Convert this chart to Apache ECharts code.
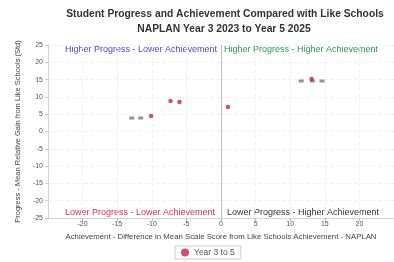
<!DOCTYPE html>
<html><head><meta charset="utf-8">
<script src="https://cdn.jsdelivr.net/npm/echarts@6/dist/echarts.min.js"></script>
<style>html,body{margin:0;padding:0;background:#fff}#c{width:394px;height:262px}</style>
</head><body><div id="c"></div>
<script>
var titleText = 'Student Progress and Achievement Compared with Like Schools';
var subtitleText = 'NAPLAN Year 3 2023 to Year 5 2025';
var xAxisName = 'Achievement - Difference in Mean Scale Score from Like Schools Achievement - NAPLAN';
var yAxisName = 'Progress - Mean Relative Gain from Like Schools (Std)';
var seriesName = 'Year 3 to 5';
var xTicks = [-25, -20, -15, -10, -5, 0, 5, 10, 15, 20, 25];
var yTicks = [-25, -20, -15, -10, -5, 0, 5, 10, 15, 20, 25];
var mainPoints = [[-10.1, 4.5], [-7.3, 8.8], [-6.0, 8.5], [1.0, 7.1], [13.1, 15.2]];
var greyPoints = [[-12.9, 3.9], [-11.6, 3.9], [11.6, 14.6], [13.2, 14.6], [14.6, 14.6]];
var quadrantLabels = ['Higher Progress - Lower Achievement', 'Higher Progress - Higher Achievement',
  'Lower Progress - Lower Achievement', 'Lower Progress - Higher Achievement'];

var chart = echarts.init(document.getElementById('c'));
var F = 'Liberation Sans, Arial, sans-serif';
chart.setOption({
  animation: false,
  title: [
    {text: titleText, left: 220, top: 4, textAlign: 'center',
     textStyle: {fontSize: 10.3, fontWeight: 'bold', color: '#333', fontFamily: F}},
    {text: subtitleText, left: 219, top: 19, textAlign: 'center',
     textStyle: {fontSize: 10.3, fontWeight: 'bold', color: '#333', fontFamily: F}}
  ],
  legend: {data: [seriesName], left: 175, top: 246, itemWidth: 8, itemHeight: 8,
    padding: [2, 6], borderColor: '#ccc', borderWidth: 1, itemGap: 4,
    textStyle: {fontSize: 8.5, color: '#555', fontFamily: F}},
  grid: {left: 48, top: 45, width: 350, height: 173},
  xAxis: {type: 'value', min: xTicks[0], max: xTicks[xTicks.length - 1], interval: 5,
    name: xAxisName, nameLocation: 'middle', nameGap: 15,
    nameTextStyle: {fontSize: 7.8, color: '#444', fontFamily: F},
    axisLine: {show: true, onZero: false, lineStyle: {color: '#ccc', type: 'dotted'}},
    axisTick: {show: true, inside: false, length: 3, lineStyle: {color: '#bbb'}},
    axisLabel: {fontSize: 7, color: '#555', margin: 3, showMinLabel: false, showMaxLabel: false, fontFamily: F},
    splitLine: {show: true, lineStyle: {color: '#f2f2f2', type: 'dashed'}}},
  yAxis: {type: 'value', min: yTicks[0], max: yTicks[yTicks.length - 1], interval: 5,
    name: yAxisName, nameLocation: 'middle', nameGap: 26,
    nameTextStyle: {fontSize: 7.5, color: '#444', fontFamily: F},
    axisLine: {show: true, onZero: false, lineStyle: {color: '#ccc', type: 'dotted'}},
    axisTick: {show: true, length: 3, lineStyle: {color: '#ccc'}},
    axisLabel: {fontSize: 7, color: '#555', margin: 5, fontFamily: F},
    splitLine: {show: true, lineStyle: {color: '#f2f2f2', type: 'dashed'}}},
  graphic: [
    {type: 'text', left: 65, top: 45, style: {text: quadrantLabels[0], fontSize: 9, fill: '#4a4ac8', fontFamily: F}},
    {type: 'text', left: 224, top: 45, style: {text: quadrantLabels[1], fontSize: 9, fill: '#2e9a50', fontFamily: F}},
    {type: 'text', left: 65, top: 208, style: {text: quadrantLabels[2], fontSize: 9, fill: '#d8305a', fontFamily: F}},
    {type: 'text', left: 227, top: 208, style: {text: quadrantLabels[3], fontSize: 9, fill: '#333', fontFamily: F}}
  ],
  series: [
    {name: seriesName, type: 'scatter', data: mainPoints, symbol: 'circle', symbolSize: 4.5,
     itemStyle: {color: '#c8204a'}, z: 3,
     markLine: {silent: true, symbol: 'none', label: {show: false},
       lineStyle: {color: '#bbb', type: 'solid', width: 1},
       data: [{xAxis: 0}]}},
    {name: 'grey', type: 'scatter', data: greyPoints, symbol: 'rect', symbolSize: [5, 3],
     itemStyle: {color: '#777'}, z: 2}
  ]
});
</script></body></html>
